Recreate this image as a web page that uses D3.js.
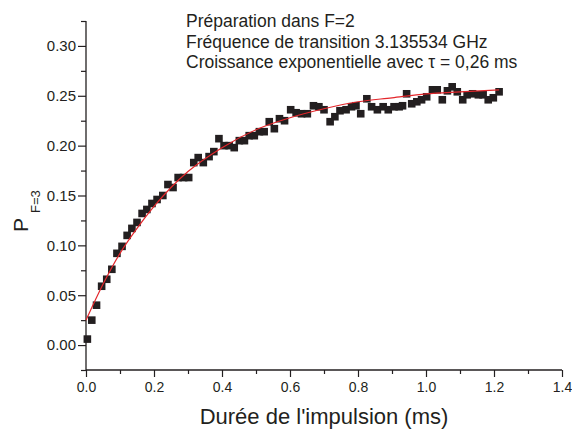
<!DOCTYPE html>
<html>
<head>
<meta charset="utf-8">
<script src="https://cdn.jsdelivr.net/npm/d3@7"></script>
<style>
  body { margin: 0; background: #fff; }
  text { font-family: "Liberation Sans", Arial, sans-serif; fill: #231f20; }
</style>
</head>
<body>
<svg width="572" height="431"></svg>
<script>
// mesures : durée (ms) et population P(F=3)
var tData = [0.004,0.017,0.031,0.046,0.061,0.076,0.091,0.106,0.121,0.135,0.150,0.165,0.179,0.194,0.209,0.226,0.241,0.256,
  0.271,0.287,0.302,0.317,0.330,0.345,0.362,0.376,0.391,0.406,0.421,0.436,0.451,0.466,0.480,0.495,0.510,0.524,0.539,0.554,
  0.569,0.584,0.602,0.618,0.634,0.651,0.669,0.685,0.700,0.718,0.732,0.747,0.765,0.781,0.794,0.808,0.826,0.840,0.857,0.874,
  0.889,0.906,0.921,0.931,0.943,0.958,0.973,0.987,1.002,1.019,1.033,1.048,1.063,1.077,1.092,1.108,1.121,1.137,1.154,1.168,
  1.183,1.198,1.215];
var pData = [0.006,0.025,0.040,0.059,0.066,0.076,0.092,0.099,0.110,0.117,0.123,0.132,0.136,0.142,0.146,0.150,0.161,0.158,
  0.168,0.168,0.168,0.183,0.188,0.183,0.189,0.194,0.207,0.200,0.200,0.198,0.205,0.205,0.210,0.210,0.214,0.214,0.224,0.217,
  0.227,0.225,0.236,0.233,0.232,0.232,0.240,0.239,0.236,0.224,0.229,0.235,0.236,0.239,0.240,0.232,0.247,0.239,0.236,0.239,
  0.236,0.239,0.239,0.240,0.252,0.242,0.244,0.246,0.249,0.256,0.256,0.246,0.255,0.259,0.254,0.246,0.251,0.252,0.251,0.251,
  0.246,0.248,0.254];

// courbe d'ajustement
var fitT = [0,0.05,0.1,0.15,0.2,0.25,0.3,0.4,0.5,0.6,0.7,0.8,0.9,1.0,1.1,1.215];
var fitP = [0.025,0.061,0.092,0.117,0.139,0.158,0.174,0.198,0.216,0.228,0.237,0.244,0.248,0.252,0.254,0.256];

var xMajor = [0,0.2,0.4,0.6,0.8,1.0,1.2,1.4];
var xMinor = [0.1,0.3,0.5,0.7,0.9,1.1,1.3];
var yMajor = [0,0.05,0.10,0.15,0.20,0.25,0.30];
var yMinor = [-0.025,0.025,0.075,0.125,0.175,0.225,0.275,0.325];

var notes = ["Préparation dans F=2", "Fréquence de transition 3.135534 GHz", "Croissance exponentielle avec \u03c4 = 0,26 ms"];

var svg = d3.select('svg');
var x = d3.scaleLinear().domain([0,1.4]).range([86,562]);
var y = d3.scaleLinear().domain([-0.025,0.325]).range([370,21]);

// axes
var gx = svg.append('g').attr('transform','translate(0,370)');
gx.call(d3.axisBottom(x).tickValues(xMajor).tickFormat(d3.format('.1f')).tickSize(7).tickPadding(5));
gx.append('g').call(d3.axisBottom(x).tickValues(xMinor).tickFormat('').tickSize(4)).select('.domain').remove();
gx.selectAll('text').attr('font-size',14).style('font-family','"Liberation Sans", Arial, sans-serif').attr('fill','#231f20');

var gy = svg.append('g').attr('transform','translate(86,0)');
gy.call(d3.axisLeft(y).tickValues(yMajor).tickFormat(d3.format('.2f')).tickSize(8).tickPadding(2));
gy.append('g').call(d3.axisLeft(y).tickValues(yMinor).tickFormat('').tickSize(5)).select('.domain').remove();
gy.selectAll('text').attr('font-size',15).style('font-family','"Liberation Sans", Arial, sans-serif').attr('fill','#231f20');

gx.select('.domain').remove();
gy.select('.domain').remove();
svg.append('line').attr('x1',86).attr('x2',562).attr('y1',370).attr('y2',370).attr('stroke','#231f20').attr('stroke-width',1.3);
svg.append('line').attr('x1',86).attr('x2',86).attr('y1',21).attr('y2',370).attr('stroke','#231f20').attr('stroke-width',1.3);
svg.selectAll('.tick line').attr('stroke','#231f20').attr('stroke-width',1.2);

// points
var pts = tData.map(function(t,i){ return [t,pData[i]]; });
svg.append('g').selectAll('rect').data(pts).enter().append('rect')
  .attr('x',function(d){ return x(d[0])-3.8; })
  .attr('y',function(d){ return y(d[1])-3.8; })
  .attr('width',7.6).attr('height',7.6)
  .attr('fill','#231f20');

// ajustement
var fit = fitT.map(function(t,i){ return [t,fitP[i]]; });
svg.append('path').datum(fit)
  .attr('d', d3.line().x(function(d){ return x(d[0]); }).y(function(d){ return y(d[1]); }).curve(d3.curveMonotoneX))
  .attr('fill','none').attr('stroke','#e3262b').attr('stroke-width',1.2);

// textes
svg.selectAll('.note').data(notes).enter().append('text').attr('class','note')
  .attr('x',186).attr('y',function(d,i){ return 26.7 + i*20.8; })
  .attr('font-size',17.5).text(function(d){ return d; });

svg.append('text').attr('x',324).attr('y',424).attr('text-anchor','middle')
  .attr('font-size',22).text("Durée de l'impulsion (ms)");

svg.append('text').attr('transform','translate(28,232) rotate(-90)').attr('font-size',21).text('P');
svg.append('text').attr('transform','translate(40,213) rotate(-90)').attr('font-size',13).text('F=3');
</script>
</body>
</html>
